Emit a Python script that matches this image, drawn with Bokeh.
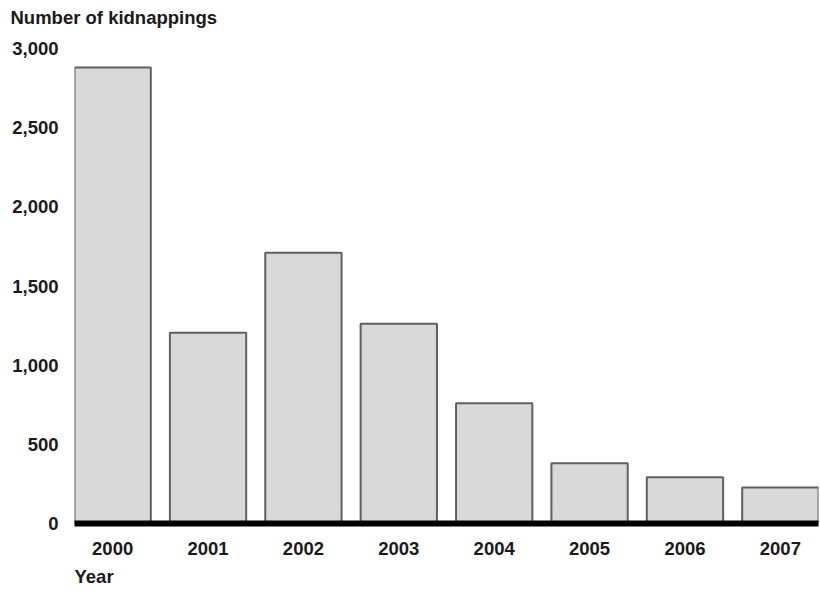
from bokeh.plotting import figure
from bokeh.models import Range1d, Title, FixedTicker
from bokeh.embed import file_html
from bokeh.resources import INLINE

years = [2000, 2001, 2002, 2003, 2004, 2005, 2006, 2007]
kidnappings = [2880, 1205, 1710, 1262, 760, 380, 292, 228]
y_ticks = [0, 500, 1000, 1500, 2000, 2500, 3000]

FONT = "Liberation Sans"
FS = "18.5px"
TXT = "#1a1a1a"

p = figure(width=820, height=592, output_backend="svg", toolbar_location=None,
           x_range=Range1d(1999.6, 2007.4), y_range=Range1d(0, 3000),
           min_border_left=74, min_border_right=2, min_border_top=48, min_border_bottom=69)
p.outline_line_color = None
p.background_fill_color = "white"
p.border_fill_color = "white"
p.xgrid.visible = False
p.ygrid.visible = False

p.vbar(x=years, top=kidnappings, bottom=0, width=0.8,
       fill_color="#d9d9d9", line_color="#606060", line_width=2)

for ax in (p.xaxis[0], p.yaxis[0]):
    ax.axis_line_color = None
    ax.major_tick_line_color = None
    ax.minor_tick_line_color = None
    ax.major_tick_in = 0
    ax.major_tick_out = 0
    ax.minor_tick_in = 0
    ax.minor_tick_out = 0
    ax.major_label_text_font = FONT
    ax.major_label_text_font_style = "bold"
    ax.major_label_text_font_size = FS
    ax.major_label_text_color = TXT

# thick black baseline at zero
p.xaxis.axis_line_color = "black"
p.xaxis.axis_line_width = 6

p.xaxis.ticker = FixedTicker(ticks=years)
p.xaxis.major_label_overrides = {y: str(y) for y in years}
p.xaxis.major_label_standoff = 18
p.yaxis.ticker = FixedTicker(ticks=y_ticks)
p.yaxis.major_label_overrides = {t: f"{t:,}" for t in y_ticks}
p.yaxis.major_label_standoff = 16

p.title.text = "Number of kidnappings"
p.title.align = "left"
p.title.offset = -64
p.title.standoff = 6
p.title.text_font = FONT
p.title.text_font_style = "bold"
p.title.text_font_size = FS
p.title.text_color = TXT

# spacer between frame and title
spacer = Title(text=" ", text_font_size="10px", standoff=5, text_color="white")
p.add_layout(spacer, "above")

year_title = Title(text="Year", align="left", text_font=FONT, text_font_style="bold",
                   text_font_size=FS, text_color=TXT, standoff=12)
p.add_layout(year_title, "below")

open("out.html", "w").write(file_html(p, INLINE))
